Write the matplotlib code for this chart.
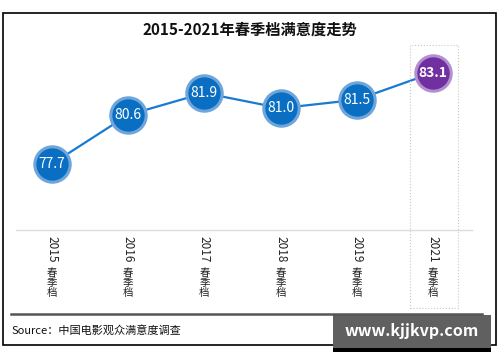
import matplotlib.pyplot as plt
from matplotlib.patches import Rectangle

plt.rcParams['font.family'] = ['Noto Sans CJK SC', 'DejaVu Sans']

# --- data
years = ["2015", "2016", "2017", "2018", "2019", "2021"]
season = "春季档"
scores = [77.7, 80.6, 81.9, 81.0, 81.5, 83.1]
title = "2015-2021年春季档满意度走势"
source = "Source：中国电影观众满意度调查"
watermark = "www.kjjkvp.com"

W, H = 500, 362
fig = plt.figure(figsize=(W / 100, H / 100), dpi=100)


def fx(px):
    return px / W


def fy(py):
    return 1 - py / H


# -- outer frame
fig.patches.append(Rectangle((fx(3), fy(345)), fx(493), 332 / H, transform=fig.transFigure,
                             fill=False, edgecolor="black", linewidth=1.2))

# -- main axes
ax = fig.add_axes([fx(16), fy(229), fx(456), 184 / H])
ax.set_xlim(-0.47, 5.51)
ax.set_ylim(73.85, 84.74)
ax.axis("off")

xs = list(range(len(years)))
ax.plot(xs, scores, color="#1a7ad0", linewidth=1.6, zorder=1)
for i, v in enumerate(scores):
    last = i == len(scores) - 1
    face = "#7030a0" if last else "#0a6fc2"
    edge = "#b48fd0" if last else "#6ea6dc"
    ax.plot(i, v, "o", markersize=25.5, markerfacecolor=face, markeredgecolor=edge,
            markeredgewidth=2.2, zorder=2)
    ax.text(i, v, "{:.1f}".format(v), color="white", ha="center", va="center",
            fontsize=10, fontweight="bold" if last else "normal", zorder=3)

# -- baseline
fig.add_artist(plt.Line2D([fx(16), fx(472)], [fy(230), fy(230)], color="#dcdcdc", linewidth=1))

# -- highlight box around last category
fig.patches.append(Rectangle((fx(410), fy(308)), fx(48), 263 / H, transform=fig.transFigure,
                             fill=False, edgecolor="#c8c8c8", linewidth=0.8, linestyle=":"))

# -- category labels (digits rotated, CJK upright)
for i, yr in enumerate(years):
    px = ax.transData.transform((i, 0))[0]
    xf = px / fig.bbox.width
    fig.text(xf, fy(236), yr, rotation=270, ha="center", va="top", fontsize=8.5, color="#222222")
    fig.text(xf, fy(268), "\n".join(season), ha="center", va="top", fontsize=7.5,
             color="#222222", linespacing=1.0)

# -- title
fig.text(0.5, fy(30), title, ha="center", va="center", fontsize=11, fontweight="bold",
         color="#111111")

# -- separator and source
fig.add_artist(plt.Line2D([fx(11), fx(482)], [fy(314), fy(314)], color="#555555", linewidth=1.8))
fig.text(fx(12), fy(330), source, ha="left", va="center", fontsize=8, color="#111111")

# -- watermark
fig.patches.append(Rectangle((fx(333), fy(352)), fx(158), 4 / H, transform=fig.transFigure,
                             facecolor="black", edgecolor="none"))
fig.patches.append(Rectangle((fx(333), fy(348)), fx(158), 33 / H, transform=fig.transFigure,
                             facecolor="#606060", edgecolor="none"))
fig.text(fx(412), fy(331), watermark, ha="center", va="center", fontsize=11.5,
         fontweight="bold", color="white")

fig.savefig("out.png", dpi=100)
